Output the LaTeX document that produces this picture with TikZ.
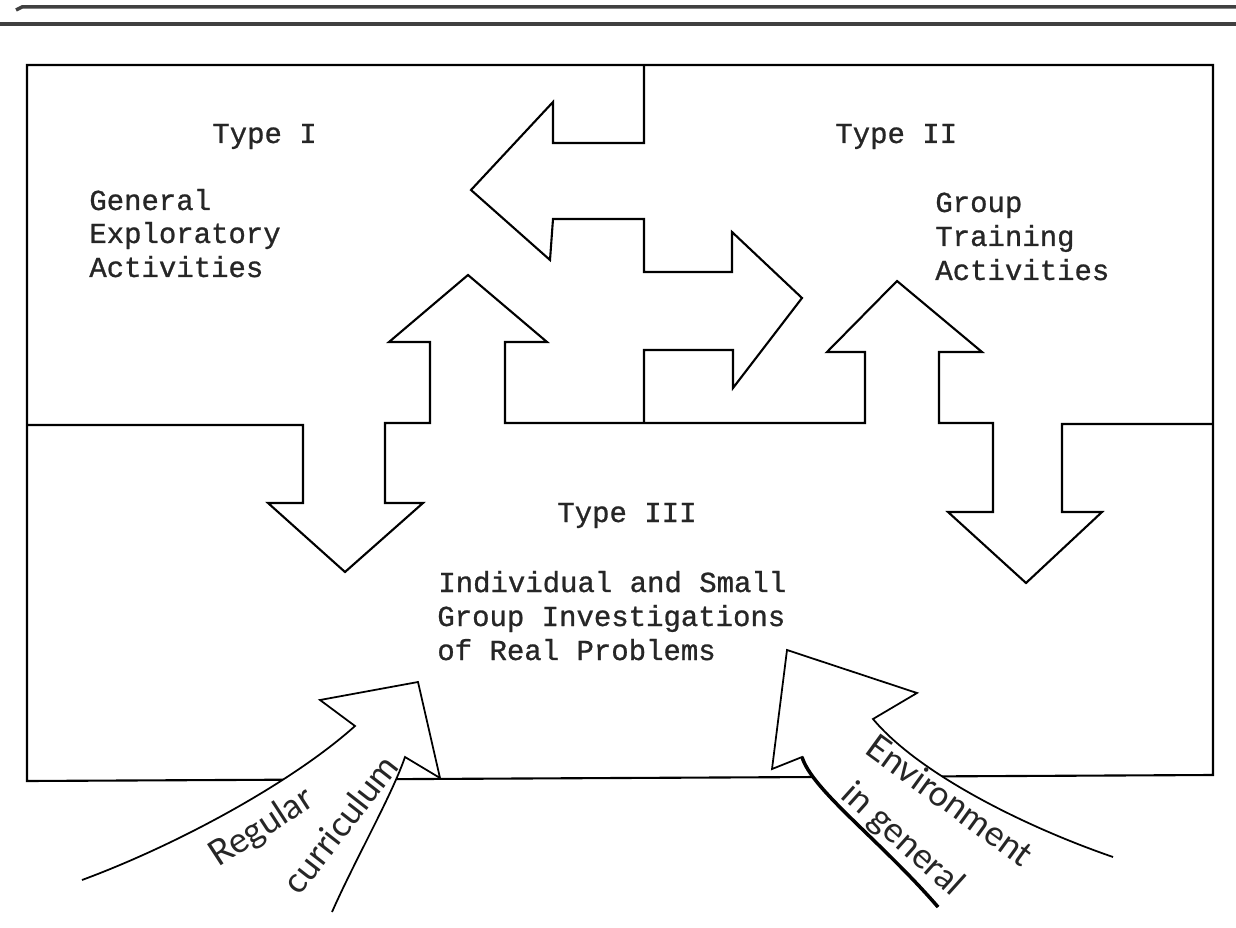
\documentclass[tikz,border=0pt]{standalone}
\usepackage{fontspec}
\setmonofont[FakeBold=0.9]{Liberation Mono}
\newfontfamily\handfont{Lato}

\tikzset{
  wall/.style={line width=1.2pt, line join=miter},
  typed/.style={font=\ttfamily\fontsize{16.5}{19}\selectfont, inner sep=0pt, anchor=base west, text=black!85},
  hand/.style={font=\handfont\fontsize{20}{22}\selectfont, inner sep=0pt, text=black!85},
  feed/.style={line width=1pt, fill=white}
}

\begin{document}
\begin{tikzpicture}[x=0.02cm, y=-0.02cm]
        \useasboundingbox (0,0) rectangle (1236,928);
        % rules on top
        \draw[line width=2pt, black!75] (16,10) -- (22,7) -- (1236,7);
        \draw[line width=2pt, black!75] (0,24) -- (1236,24);
        % frame
        \draw[wall] (27,65) -- (1213,65) -- (1213,775) -- (27,781) -- cycle;
        % Type III border
        \draw[wall] (27,425) -- (303,425) -- (303,503) -- (268,503) -- (345,572) -- (423,503) -- (385,503) -- (385,423)
            -- (430,423) -- (430,342) -- (389,342) -- (468,275) -- (547,342) -- (505,342) -- (505,423)
            -- (865,423) -- (865,352) -- (827,352) -- (897,281) -- (982,352) -- (939,352) -- (939,423)
            -- (993,423) -- (993,512) -- (948,512) -- (1026,583) -- (1102,512) -- (1062,512) -- (1062,424) -- (1213,424);
        % Type I / Type II border
        \draw[wall] (644,65) -- (644,143) -- (553,143) -- (553,102) -- (471,190) -- (550,260) -- (553,219) -- (644,219)
            -- (644,272) -- (732,272) -- (732,232) -- (802,298) -- (733,388) -- (733,350) -- (644,350) -- (644,423);
        \node[typed] (t1) at (212,143) {Type I};
        \node[typed] (g1) at (89,210) {General};
        \node[typed] (g2) at (89,243) {Exploratory};
        \node[typed] (g3) at (89,277) {Activities};
        \node[typed] (t2) at (835,143) {Type II};
        \node[typed] (r1) at (935,212) {Group};
        \node[typed] (r2) at (935,246) {Training};
        \node[typed] (r3) at (935,280) {Activities};
        \node[typed] (t3) at (557,522) {Type III};
        \node[typed] (i1) at (438,592) {Individual and Small};
        \node[typed] (i2) at (437,626) {Group Investigations};
        \node[typed] (i3) at (437,660) {of Real Problems};
        % inputs from below
        \draw[feed] (82,880) .. controls (182,843) and (295,780) .. (355,726) -- (320,700) -- (418,682) -- (440,778)
            -- (405,757) .. controls (392,795) and (355,860) .. (332,912);
        \draw[feed] (1113,857) .. controls (1023,826) and (918,773) .. (873,719) -- (917,693) -- (787,650) -- (772,769)
            -- (802,757) .. controls (812,790) and (880,840) .. (938,907);
        \draw[line width=2pt] (802,757) .. controls (812,790) and (880,840) .. (938,907);
        \node[hand, rotate=33] (reg) at (262,828) {Regular};
        \node[hand, rotate=52] (cur) at (340,824) {curriculum};
        \node[hand, rotate=-36] (env) at (950,800) {Environment};
        \node[hand, rotate=-42] (ing) at (902,840) {in general};
    \end{tikzpicture}
\end{document}
